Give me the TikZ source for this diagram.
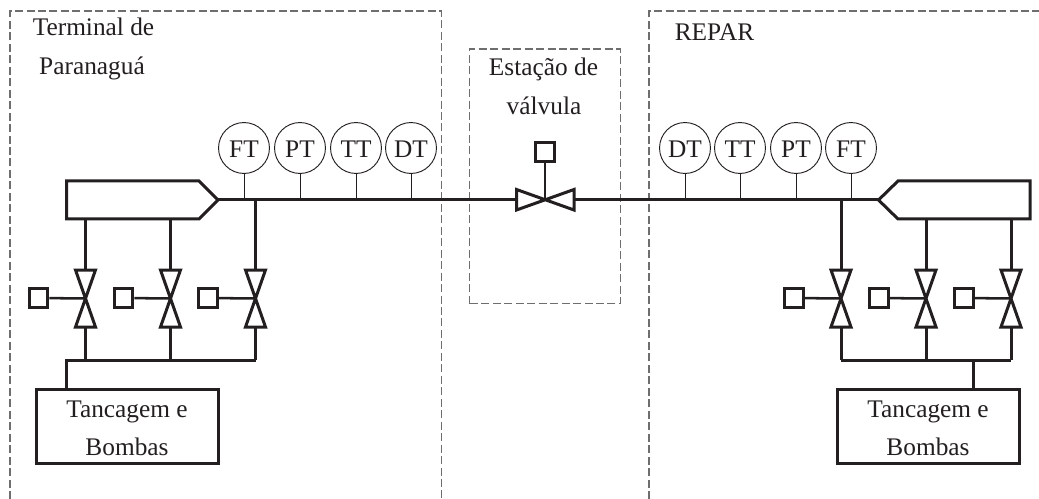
\documentclass[tikz,border=0pt]{standalone}
\usepackage{fontspec}
\setmainfont{Liberation Serif}
\definecolor{ink}{HTML}{231F20}
\definecolor{dashgray}{HTML}{6E6E6E}
\usetikzlibrary{calc}
\tikzset{
  x=0.75pt,y=-0.75pt,
  heavy/.style={draw=ink,line width=2.25pt,line join=miter},
  medium/.style={draw=ink,line width=1.9pt},
  hair/.style={draw=ink,line width=0.7pt},
  zone/.style={draw=dashgray,line width=0.8pt,dash pattern=on 6pt off 2.6pt},
  txt/.style={text=ink,font=\fontsize{19}{23}\selectfont,anchor=base,inner sep=0pt},
  instr/.style={circle,hair,minimum size=38.2pt,inner sep=0pt,text=ink,font=\fontsize{19}{23}\selectfont,text height=15pt,text depth=0pt},
  actuator/.style={rectangle,heavy,minimum size=14pt,inner sep=0pt},
  tank/.style={rectangle,heavy,minimum width=136.5pt,minimum height=56pt,inner sep=0pt,align=center,text=ink,font=\fontsize{19}{28.5}\selectfont},
}
\newcommand{\tankstrut}{\rule{0pt}{15.6pt}}
\begin{document}
\begin{tikzpicture}
\useasboundingbox (0,0) rectangle (1039,499);
% dashed zones
\draw[zone] (10,499) -- (10,11) -- (441.5,11) -- (441.5,499);
\draw[zone] (649,499) -- (649,11) -- (1039,11);
\draw[zone] (469.5,303.5) -- (469.5,49) -- (620.5,49) -- (620.5,303.5) -- cycle;
% texts
\node[txt] (t1) at (93.5,36) {Terminal de};
\node[txt] (t2) at (92,75) {Paranaguá};
\node[txt] (t3) at (714.5,41) {REPAR};
\node[txt] (t4) at (543.5,76) {Estação de};
\node[txt] (t5) at (544,115) {válvula};
% manifolds and main line
\coordinate (ltip) at (218,200);
\coordinate (rtip) at (878.5,200);
\coordinate (cv) at (545,200);
\coordinate (cvw) at (516.5,200);
\coordinate (cve) at (574,200);
\draw[heavy] (66.5,181) -- (199,181) -- (ltip) -- (199,219) -- (66.5,219) -- cycle;
\draw[heavy] (1030,181) -- (898,181) -- (rtip) -- (898,219) -- (1030,219) -- cycle;
\draw[heavy] (ltip) -- (cvw);
\draw[heavy] (cve) -- (rtip);
% centre valve
\draw[heavy] (cvw |- 0,189.5) -- (cve |- 0,210) -- (cve |- 0,189.5) -- (cvw |- 0,210) -- cycle;
\node[actuator] (cs) at (545,152) {};
\draw[medium] (cs) -- (cv);
% instruments
\foreach \n/\t/\x in {a/FT/244,b/PT/300,c/TT/356,d/DT/411,e/DT/685,f/TT/740,g/PT/796,h/FT/851}{
  \node[instr] (i\n) at (\x,148) {\t};
  \coordinate (j\n) at (\x,200);
  \draw[hair] (i\n) -- (j\n);
}
% valve groups
\foreach \n/\x/\sx/\ty in {1/85.5/38.5/219,2/170.5/123.5/219,3/255.5/208/200,4/841/794/200,5/926/879/219,6/1011/964/219}{
  \coordinate (v\n) at (\x,298.5);
  \coordinate (vt\n) at (\x,270);
  \coordinate (vb\n) at (\x,327);
  \coordinate (src\n) at (\x,\ty);
  \coordinate (bus\n) at (\x,360);
  \draw[heavy] (\x-10,270) -- (\x+10,270) -- (\x-10,327) -- (\x+10,327) -- cycle;
  \draw[heavy] (src\n) -- (vt\n);
  \draw[heavy] (vb\n) -- (bus\n);
  \node[actuator] (s\n) at (\sx,298) {};
  \draw[medium] (s\n) -- (v\n);
}
% tanks and buses
\node[tank] (tl) at (127,426.5) {\tankstrut Tancagem e\\Bombas};
\node[tank] (tr) at (928,426.5) {\tankstrut Tancagem e\\Bombas};
\coordinate (bl) at (66.5,360);
\coordinate (br) at (973,360);
\draw[heavy] (tl.north -| bl) -- (bl) -- (bus3);
\draw[heavy] (bus4) -- (bus6);
\draw[heavy] (br) -- (tr.north -| br);
\end{tikzpicture}
\end{document}
